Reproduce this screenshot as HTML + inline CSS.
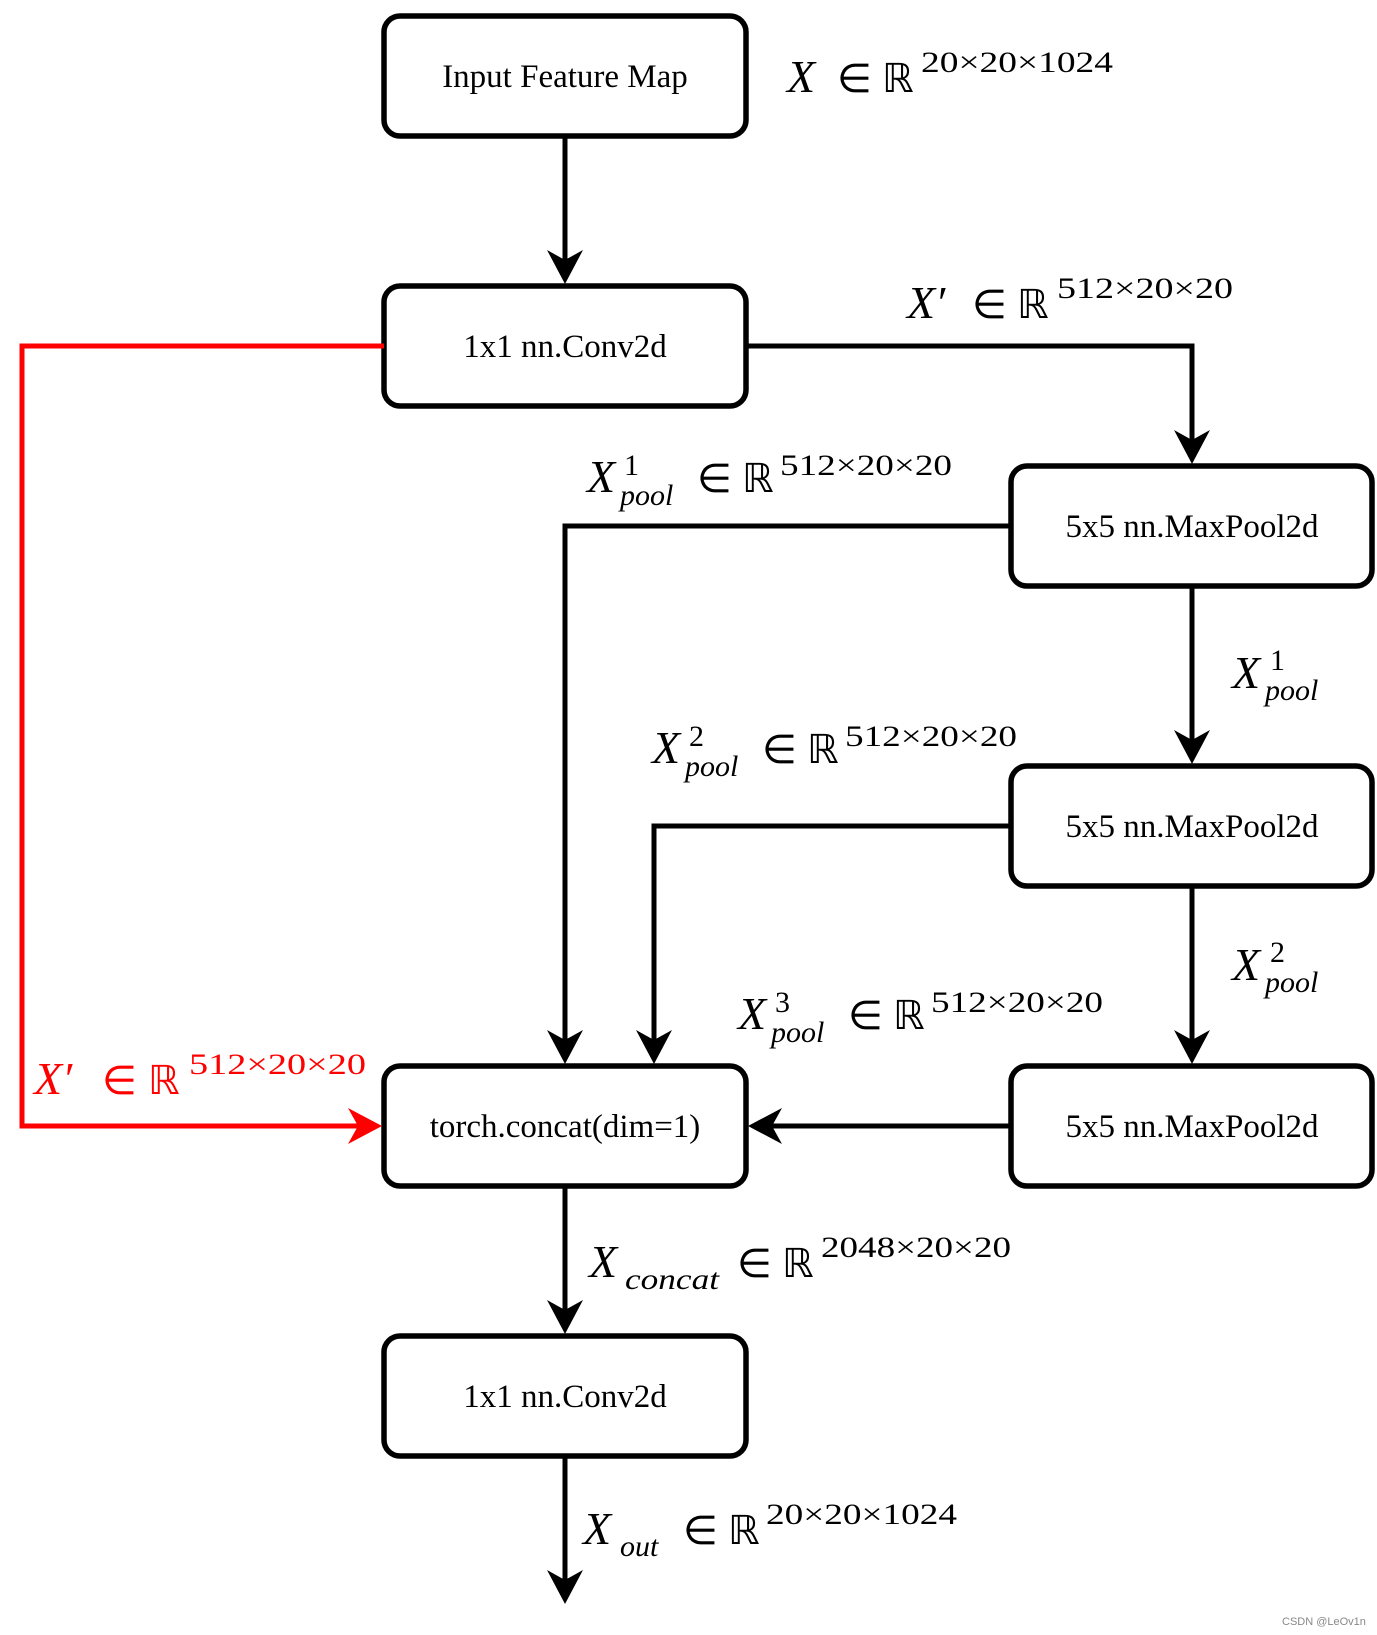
<!DOCTYPE html>
<html><head><meta charset="utf-8"><style>
html,body{margin:0;padding:0;background:#fff;}
svg{display:block;}
.bx{fill:#fff;stroke:#000;stroke-width:5.5;}
.ln{fill:none;stroke:#000;stroke-width:5;}
.t{font-family:"Liberation Serif",serif;font-size:33px;text-anchor:middle;fill:#000;}
.m{font-family:"Liberation Serif",serif;fill:#000;}
.X{font-style:italic;font-size:46px;}
.op{font-size:40px;}
.sp{font-size:30px;}
.sb{font-size:30px;font-style:italic;}
</style></head><body>
<svg width="1377" height="1635" viewBox="0 0 1377 1635" xmlns="http://www.w3.org/2000/svg">
<!-- boxes -->
<rect class="bx" x="384" y="16" width="362" height="120" rx="16"/>
<rect class="bx" x="384" y="286" width="362" height="120" rx="16"/>
<rect class="bx" x="1011" y="466" width="361" height="120" rx="16"/>
<rect class="bx" x="1011" y="766" width="361" height="120" rx="16"/>
<rect class="bx" x="1011" y="1066" width="361" height="120" rx="16"/>
<rect class="bx" x="384" y="1066" width="362" height="120" rx="16"/>
<rect class="bx" x="384" y="1336" width="362" height="120" rx="16"/>
<text class="t" x="565" y="87">Input Feature Map</text>
<text class="t" x="565" y="357">1x1 nn.Conv2d</text>
<text class="t" x="1192" y="537">5x5 nn.MaxPool2d</text>
<text class="t" x="1192" y="837">5x5 nn.MaxPool2d</text>
<text class="t" x="1192" y="1137">5x5 nn.MaxPool2d</text>
<text class="t" x="565" y="1137">torch.concat(dim=1)</text>
<text class="t" x="565" y="1407">1x1 nn.Conv2d</text>
<!-- connectors -->
<path class="ln" d="M565 137 V262"/>
<path class="ln" d="M746 346 H1192 V442"/>
<path class="ln" d="M1192 587 V742"/>
<path class="ln" d="M1192 887 V1042"/>
<path class="ln" d="M1011 526 H565 V1042"/>
<path class="ln" d="M1011 826 H654 V1042"/>
<path class="ln" d="M1011 1126 H770"/>
<path class="ln" d="M565 1187 V1312"/>
<path class="ln" d="M565 1457 V1582"/>
<path fill="none" stroke="#f00" stroke-width="5" d="M384 346 H22 V1126 H360"/>
<!-- arrowheads (down) -->
<g fill="#000">
<path d="M565 284 L547 250 L565 260 L583 250 Z"/>
<path d="M1192 464 L1174 430 L1192 440 L1210 430 Z"/>
<path d="M1192 764 L1174 730 L1192 740 L1210 730 Z"/>
<path d="M1192 1064 L1174 1030 L1192 1040 L1210 1030 Z"/>
<path d="M565 1064 L547 1030 L565 1040 L583 1030 Z"/>
<path d="M654 1064 L636 1030 L654 1040 L672 1030 Z"/>
<path d="M565 1334 L547 1300 L565 1310 L583 1300 Z"/>
<path d="M565 1604 L547 1570 L565 1580 L583 1570 Z"/>
<path d="M748 1126 L782 1108 L772 1126 L782 1144 Z"/>
</g>
<path fill="#f00" d="M382 1126 L348 1108 L358 1126 L348 1144 Z"/>
<!-- labels -->
<g class="m">
<text class="X" x="787" y="92">X</text><text class="op" x="837" y="92">∈</text><text class="op" x="882" y="92">ℝ</text>
<text class="sp" x="921" y="72" textLength="192" lengthAdjust="spacingAndGlyphs">20×20×1024</text>

<text class="X" x="907" y="318">X′</text><text class="op" x="972" y="318">∈</text><text class="op" x="1017" y="318">ℝ</text>
<text class="sp" x="1057" y="298" textLength="176" lengthAdjust="spacingAndGlyphs">512×20×20</text>

<text class="X" x="587" y="492">X</text><text class="sp" x="624" y="475">1</text><text class="sb" x="620" y="505">pool</text>
<text class="op" x="697" y="492">∈</text><text class="op" x="742" y="492">ℝ</text>
<text class="sp" x="780" y="475" textLength="172" lengthAdjust="spacingAndGlyphs">512×20×20</text>

<text class="X" x="1232" y="688">X</text><text class="sp" x="1270" y="670">1</text><text class="sb" x="1265" y="700">pool</text>

<text class="X" x="652" y="763">X</text><text class="sp" x="689" y="746">2</text><text class="sb" x="685" y="776">pool</text>
<text class="op" x="762" y="763">∈</text><text class="op" x="807" y="763">ℝ</text>
<text class="sp" x="845" y="746" textLength="172" lengthAdjust="spacingAndGlyphs">512×20×20</text>

<text class="X" x="1232" y="980">X</text><text class="sp" x="1270" y="962">2</text><text class="sb" x="1265" y="992">pool</text>

<text class="X" x="738" y="1029">X</text><text class="sp" x="775" y="1012">3</text><text class="sb" x="771" y="1042">pool</text>
<text class="op" x="848" y="1029">∈</text><text class="op" x="893" y="1029">ℝ</text>
<text class="sp" x="931" y="1012" textLength="172" lengthAdjust="spacingAndGlyphs">512×20×20</text>

<g fill="#f00" style="fill:#f00">
<text class="X" x="34" y="1094" fill="#f00">X′</text><text class="op" x="102" y="1094" fill="#f00">∈</text><text class="op" x="148" y="1094" fill="#f00">ℝ</text>
<text class="sp" x="189" y="1074" fill="#f00" textLength="177" lengthAdjust="spacingAndGlyphs">512×20×20</text>
</g>

<text class="X" x="589" y="1277">X</text><text class="sb" x="625" y="1289" textLength="94" lengthAdjust="spacingAndGlyphs">concat</text>
<text class="op" x="737" y="1277">∈</text><text class="op" x="782" y="1277">ℝ</text>
<text class="sp" x="821" y="1257" textLength="190" lengthAdjust="spacingAndGlyphs">2048×20×20</text>

<text class="X" x="583" y="1544">X</text><text class="sb" x="620" y="1556">out</text>
<text class="op" x="683" y="1544">∈</text><text class="op" x="728" y="1544">ℝ</text>
<text class="sp" x="766" y="1524" textLength="191" lengthAdjust="spacingAndGlyphs">20×20×1024</text>
</g>
<text x="1282" y="1625" font-family="Liberation Sans,sans-serif" font-size="11" fill="#888">CSDN @LeOv1n</text>
</svg>
</body></html>
